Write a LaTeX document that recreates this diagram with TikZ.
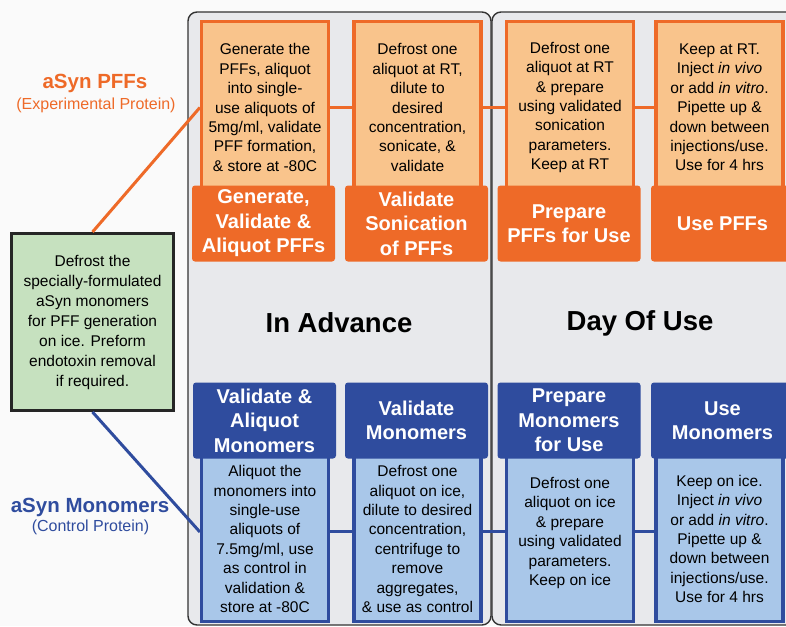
\documentclass[tikz,border=0pt]{standalone}
\usepackage{fontspec}
\setmainfont{Liberation Sans}
\usepackage{xcolor}
\usepackage{tikz}

\definecolor{pffdark}{RGB}{238,106,40}
\definecolor{pfflight}{RGB}{249,196,140}
\definecolor{monodark}{RGB}{47,76,158}
\definecolor{monolight}{RGB}{169,199,233}
\definecolor{greenfill}{RGB}{198,225,191}
\definecolor{panelgray}{RGB}{232,233,236}

\begin{document}
\begin{tikzpicture}[x=1pt, y=-1pt,
    panel/.style={draw=black!80, line width=1.4pt, fill=panelgray, rounded corners=9pt},
    bodytext/.style={align=center, inner sep=0pt, font=\fontsize{15.5}{19.4}\selectfont},
    pffbody/.style={bodytext, draw=pffdark, line width=3.2pt, fill=pfflight, minimum width=127pt, minimum height=172pt},
    monobody/.style={bodytext, draw=monodark, line width=3.2pt, fill=monolight, minimum width=127pt, minimum height=165pt},
    titlebox/.style={rounded corners=3pt, minimum width=143pt, minimum height=76pt, align=center, inner sep=0pt, text=white, font=\bfseries\fontsize{20}{24.5}\selectfont},
    pfftitle/.style={titlebox, fill=pffdark},
    monotitle/.style={titlebox, fill=monodark},
    link/.style={line width=3pt}]
    \useasboundingbox (0,0) rectangle (786,626);
    \clip (0,0) rectangle (786,626);
    \fill[black!2] (0,0) rectangle (786,626);

    % In advance / day of use panels
    \draw[panel] (188,12) rectangle (491,625);
    \draw[panel] (492,12) rectangle (830,625);
    \node[font=\bfseries\fontsize{27.5}{30}\selectfont] (advance) at (339,323) {In Advance};
    \node[font=\bfseries\fontsize{27.5}{30}\selectfont] (dayofuse) at (640,323) {Day Of Use};

    % Starting material
    \node[bodytext, draw=black!85, line width=3pt, fill=greenfill, minimum width=162pt, minimum height=177pt, font=\fontsize{15.5}{20}\selectfont] (defrost) at (92.5,322)
        {Defrost the\\specially-formulated\\aSyn monomers\\for PFF generation\\on ice. Preform\\endotoxin removal\\if required.};

    % PFF row
    \node[text=pffdark, font=\bfseries\fontsize{20.5}{24}\selectfont] (pfflabel) at (95,83) {aSyn PFFs};
    \node[text=pffdark, font=\fontsize{16}{19}\selectfont] (pffsub) at (96,105) {(Experimental Protein)};

    \node[pffbody] (gen) at (265,107.5) {Generate the\\PFFs, aliquot\\into single-\\use aliquots of\\5mg/ml, validate\\PFF formation,\\\& store at -80C};
    \node[pffbody] (valson) at (417.5,107.5) {Defrost one\\aliquot at RT,\\dilute to\\desired\\concentration,\\sonicate, \&\\validate};
    \node[pffbody] (prep) at (570,107.5) {Defrost one\\aliquot at RT\\\& prepare\\using validated\\sonication\\parameters.\\Keep at RT};
    \node[pffbody] (use) at (719.5,107.5) {Keep at RT.\\Inject \textit{in vivo}\\or add \textit{in vitro}.\\Pipette up \&\\down between\\injections/use.\\Use for 4 hrs};

    \node[pfftitle] (genT) at (263.5,223.5) {Generate,\\Validate \&\\Aliquot PFFs};
    \node[pfftitle] (valsonT) at (416.5,223.5) {Validate\\Sonication\\of PFFs};
    \node[pfftitle] (prepT) at (569,223.5) {Prepare\\PFFs for Use};
    \node[pfftitle] (useT) at (722.5,223.5) {Use PFFs};

    \draw[link, pffdark] (gen) -- (valson);
    \draw[link, pffdark] (valson) -- (prep);
    \draw[link, pffdark] (prep) -- (use);
    \draw[link, pffdark] (defrost.north) -- (gen.west);

    % Monomer row
    \node[text=monodark, font=\bfseries\fontsize{20.5}{24}\selectfont] (monolabel) at (90,507) {aSyn Monomers};
    \node[text=monodark, font=\fontsize{16}{19}\selectfont] (monosub) at (90.5,527) {(Control Protein)};

    \node[monobody] (monoA) at (265,539) {Aliquot the\\monomers into\\single-use\\aliquots of\\7.5mg/ml, use\\as control in\\validation \&\\store at -80C};
    \node[monobody] (monoB) at (417.5,539) {Defrost one\\aliquot on ice,\\dilute to desired\\concentration,\\centrifuge to\\remove\\aggregates,\\\& use as control};
    \node[monobody] (monoC) at (570,539) {Defrost one\\aliquot on ice\\\& prepare\\using validated\\parameters.\\Keep on ice\\[-4pt]};
    \node[monobody] (monoD) at (719.5,539) {Keep on ice.\\Inject \textit{in vivo}\\or add \textit{in vitro}.\\Pipette up \&\\down between\\injections/use.\\Use for 4 hrs};

    \node[monotitle] (monoAT) at (264.5,420.5) {Validate \&\\Aliquot\\Monomers};
    \node[monotitle] (monoBT) at (416.5,420.5) {Validate\\Monomers};
    \node[monotitle] (monoCT) at (569,420.5) {Prepare\\Monomers\\for Use};
    \node[monotitle] (monoDT) at (722.5,420.5) {Use\\Monomers};

    \draw[link, monodark] ([yshift=8pt]monoA.east) -- ([yshift=8pt]monoB.west);
    \draw[link, monodark] ([yshift=8pt]monoB.east) -- ([yshift=8pt]monoC.west);
    \draw[link, monodark] ([yshift=8pt]monoC.east) -- ([yshift=8pt]monoD.west);
    \draw[link, monodark] (defrost.south) -- ([yshift=7pt]monoA.west);
\end{tikzpicture}
\end{document}
